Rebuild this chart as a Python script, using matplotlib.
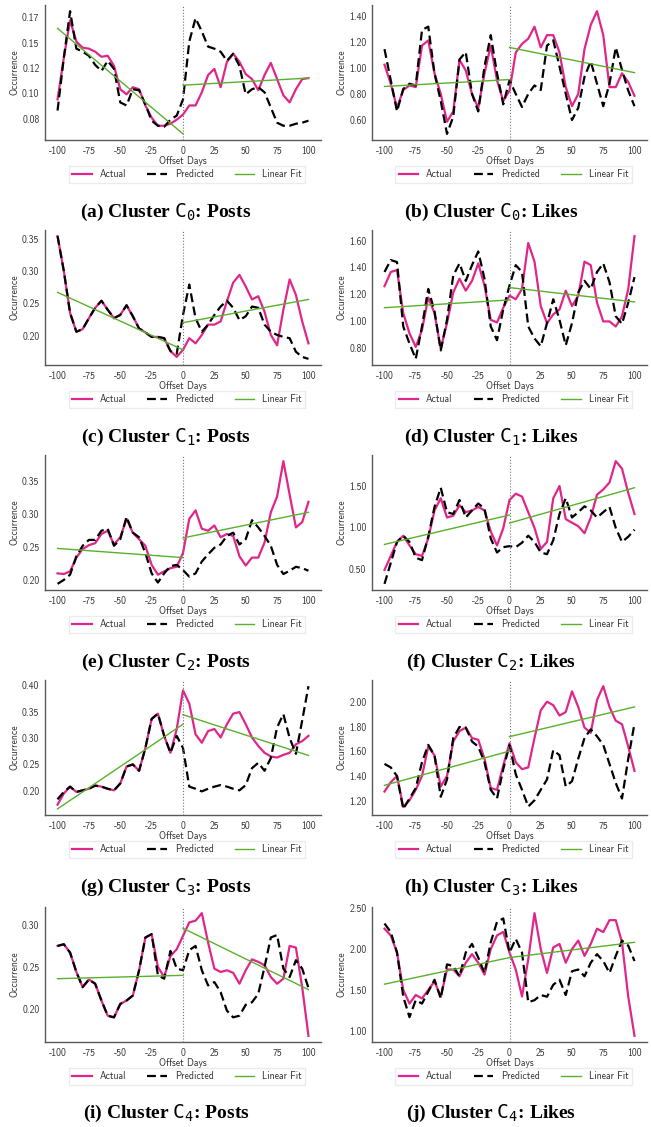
import numpy as np
import matplotlib
matplotlib.use("Agg")
from matplotlib import pyplot as plt

plt.rcParams['font.family'] = ['cmss10', 'DejaVu Sans']
plt.rcParams['axes.unicode_minus'] = False
plt.rcParams['mathtext.fontset'] = 'dejavusans'

# offset days, one value every 5 days
days = list(range(-100, 101, 5))

# (a) cluster 0, posts
c0_posts_actual = [0.094, 0.135, 0.172, 0.151, 0.145, 0.144, 0.141, 0.136, 0.137, 0.127, 0.104,
                   0.099, 0.106, 0.104, 0.088, 0.076, 0.068, 0.068, 0.070, 0.074, 0.079,
                   0.088, 0.088, 0.101, 0.118, 0.124, 0.106, 0.131, 0.139, 0.131, 0.119,
                   0.114, 0.103, 0.118, 0.130, 0.114, 0.098, 0.091, 0.104, 0.114, 0.115]
c0_posts_pred = [0.083, 0.135, 0.181, 0.144, 0.141, 0.137, 0.128, 0.122, 0.132, 0.124, 0.091,
                 0.088, 0.104, 0.103, 0.089, 0.073, 0.068, 0.067, 0.074, 0.078, 0.094,
                 0.151, 0.174, 0.161, 0.146, 0.144, 0.141, 0.132, 0.139, 0.127, 0.099,
                 0.104, 0.106, 0.101, 0.086, 0.071, 0.068, 0.068, 0.070, 0.071, 0.073]
c0_posts_fit = [0.164, 0.060, 0.108, 0.115]

# (b) cluster 0, likes
c0_likes_actual = [1.024, 0.878, 0.693, 0.830, 0.865, 0.852, 1.170, 1.210, 0.958, 0.800, 0.587,
                   0.666, 1.060, 0.980, 0.800, 0.693, 0.958, 1.170, 0.905, 0.746, 0.825,
                   1.117, 1.183, 1.223, 1.315, 1.156, 1.250, 1.250, 1.117, 0.852, 0.706,
                   0.800, 1.143, 1.328, 1.434, 1.250, 0.852, 0.852, 0.958, 0.891, 0.785]
c0_likes_pred = [1.143, 0.905, 0.666, 0.838, 0.878, 0.865, 1.290, 1.315, 0.958, 0.746, 0.494,
                 0.626, 1.064, 1.120, 0.800, 0.666, 1.010, 1.250, 0.958, 0.720, 0.905,
                 0.800, 0.700, 0.800, 0.865, 0.830, 1.170, 1.210, 1.010, 0.800, 0.600,
                 0.693, 0.931, 1.050, 0.878, 0.706, 0.878, 1.156, 0.984, 0.825, 0.706]
c0_likes_fit = [0.857, 0.910, 1.156, 0.963]

# (c) cluster 1, posts
c1_posts_actual = [0.354, 0.300, 0.235, 0.206, 0.210, 0.227, 0.243, 0.254, 0.240, 0.227, 0.232,
                   0.247, 0.230, 0.211, 0.205, 0.198, 0.198, 0.196, 0.176, 0.167, 0.178,
                   0.196, 0.188, 0.201, 0.217, 0.217, 0.222, 0.253, 0.282, 0.294, 0.276,
                   0.256, 0.261, 0.237, 0.201, 0.185, 0.240, 0.287, 0.263, 0.222, 0.188]
c1_posts_pred = [0.354, 0.300, 0.235, 0.206, 0.210, 0.227, 0.243, 0.254, 0.240, 0.227, 0.232,
                 0.247, 0.230, 0.211, 0.205, 0.198, 0.198, 0.196, 0.176, 0.172, 0.232,
                 0.279, 0.227, 0.206, 0.217, 0.232, 0.245, 0.254, 0.243, 0.224, 0.230,
                 0.245, 0.243, 0.217, 0.206, 0.201, 0.198, 0.196, 0.175, 0.167, 0.164]
c1_posts_fit = [0.267, 0.178, 0.220, 0.256]

# (d) cluster 1, likes
c1_likes_actual = [1.260, 1.366, 1.380, 1.060, 0.909, 0.808, 0.935, 1.176, 1.060, 0.795, 0.985,
                   1.214, 1.316, 1.227, 1.300, 1.430, 1.265, 1.010, 0.990, 1.100, 1.190,
                   1.163, 1.240, 1.582, 1.443, 1.112, 0.985, 1.050, 1.087, 1.227, 1.112,
                   1.190, 1.443, 1.417, 1.138, 0.998, 0.998, 0.960, 1.036, 1.240, 1.633]
c1_likes_pred = [1.366, 1.455, 1.440, 0.960, 0.833, 0.719, 0.960, 1.240, 1.074, 0.782, 1.010,
                 1.340, 1.430, 1.300, 1.417, 1.519, 1.316, 0.960, 0.858, 1.087, 1.265,
                 1.417, 1.366, 0.960, 0.871, 0.813, 0.985, 1.163, 1.010, 0.820, 0.985,
                 1.214, 1.300, 1.240, 1.366, 1.430, 1.290, 1.036, 0.980, 1.138, 1.328]
c1_likes_fit = [1.100, 1.158, 1.250, 1.143]

# (e) cluster 2, posts
c2_posts_actual = [0.210, 0.209, 0.213, 0.234, 0.247, 0.253, 0.256, 0.270, 0.275, 0.254, 0.265,
                   0.293, 0.272, 0.262, 0.252, 0.223, 0.208, 0.213, 0.218, 0.220, 0.241,
                   0.293, 0.306, 0.278, 0.275, 0.283, 0.265, 0.270, 0.267, 0.236, 0.222,
                   0.234, 0.234, 0.257, 0.303, 0.327, 0.381, 0.330, 0.280, 0.288, 0.319]
c2_posts_pred = [0.194, 0.200, 0.208, 0.236, 0.252, 0.261, 0.261, 0.275, 0.278, 0.252, 0.262,
                 0.296, 0.272, 0.265, 0.241, 0.210, 0.196, 0.210, 0.221, 0.223, 0.215,
                 0.205, 0.210, 0.228, 0.239, 0.249, 0.254, 0.267, 0.272, 0.254, 0.262,
                 0.291, 0.280, 0.267, 0.252, 0.223, 0.209, 0.214, 0.220, 0.218, 0.214]
c2_posts_fit = [0.248, 0.234, 0.264, 0.303]

# (f) cluster 2, likes
c2_likes_actual = [0.487, 0.656, 0.825, 0.900, 0.783, 0.677, 0.656, 0.867, 1.205, 1.352, 1.120,
                   1.141, 1.268, 1.184, 1.205, 1.247, 1.205, 0.951, 0.783, 0.990, 1.331,
                   1.407, 1.373, 1.184, 0.994, 0.740, 0.825, 1.352, 1.500, 1.100, 1.057,
                   1.015, 0.930, 1.120, 1.395, 1.458, 1.542, 1.800, 1.710, 1.416, 1.162]
c2_likes_pred = [0.319, 0.572, 0.825, 0.900, 0.825, 0.635, 0.605, 0.888, 1.247, 1.479, 1.184,
                 1.162, 1.331, 1.120, 1.205, 1.289, 1.226, 0.867, 0.698, 0.762, 0.774,
                 0.762, 0.816, 0.900, 0.825, 0.698, 0.677, 0.846, 1.162, 1.352, 1.120,
                 1.184, 1.255, 1.205, 1.120, 1.184, 1.247, 0.994, 0.825, 0.888, 0.973]
c2_likes_fit = [0.795, 1.150, 1.053, 1.479]

# (g) cluster 3, posts
c3_posts_actual = [0.174, 0.195, 0.208, 0.198, 0.201, 0.204, 0.210, 0.208, 0.204, 0.201, 0.214,
                   0.246, 0.250, 0.238, 0.281, 0.336, 0.346, 0.304, 0.272, 0.317, 0.390,
                   0.365, 0.307, 0.291, 0.313, 0.317, 0.301, 0.326, 0.346, 0.349, 0.326,
                   0.301, 0.285, 0.272, 0.265, 0.263, 0.268, 0.272, 0.288, 0.294, 0.304]
c3_posts_pred = [0.184, 0.198, 0.208, 0.198, 0.201, 0.204, 0.210, 0.208, 0.204, 0.201, 0.214,
                 0.246, 0.250, 0.238, 0.281, 0.336, 0.346, 0.304, 0.272, 0.304, 0.281,
                 0.208, 0.204, 0.199, 0.204, 0.208, 0.211, 0.208, 0.204, 0.201, 0.211,
                 0.243, 0.253, 0.238, 0.262, 0.320, 0.345, 0.300, 0.270, 0.333, 0.398]
c3_posts_fit = [0.166, 0.326, 0.344, 0.267]

# (h) cluster 3, likes
c3_likes_actual = [1.278, 1.353, 1.403, 1.153, 1.208, 1.292, 1.403, 1.639, 1.569, 1.319, 1.403,
                   1.680, 1.764, 1.792, 1.708, 1.694, 1.542, 1.306, 1.292, 1.486, 1.667,
                   1.514, 1.458, 1.472, 1.708, 1.931, 2.000, 1.972, 1.889, 1.917, 2.083,
                   1.958, 1.792, 1.750, 2.014, 2.125, 1.958, 1.847, 1.819, 1.639, 1.444]
c3_likes_pred = [1.500, 1.472, 1.403, 1.139, 1.222, 1.306, 1.514, 1.653, 1.569, 1.236, 1.375,
                 1.708, 1.797, 1.792, 1.680, 1.639, 1.514, 1.292, 1.222, 1.458, 1.653,
                 1.417, 1.292, 1.158, 1.208, 1.292, 1.375, 1.611, 1.570, 1.319, 1.361,
                 1.542, 1.708, 1.778, 1.722, 1.653, 1.500, 1.347, 1.222, 1.542, 1.825]
c3_likes_fit = [1.328, 1.603, 1.719, 1.958]

# (i) cluster 4, posts
c4_posts_actual = [0.275, 0.277, 0.267, 0.244, 0.226, 0.235, 0.230, 0.210, 0.192, 0.190, 0.206,
                   0.210, 0.216, 0.246, 0.285, 0.289, 0.250, 0.238, 0.263, 0.271, 0.287,
                   0.303, 0.305, 0.314, 0.279, 0.248, 0.244, 0.246, 0.243, 0.230, 0.246,
                   0.259, 0.256, 0.252, 0.238, 0.230, 0.236, 0.275, 0.273, 0.226, 0.168]
c4_posts_pred = [0.275, 0.277, 0.267, 0.244, 0.226, 0.235, 0.230, 0.210, 0.192, 0.190, 0.206,
                 0.210, 0.216, 0.246, 0.285, 0.289, 0.240, 0.236, 0.269, 0.248, 0.246,
                 0.270, 0.275, 0.246, 0.228, 0.232, 0.220, 0.198, 0.190, 0.192, 0.205,
                 0.208, 0.218, 0.250, 0.285, 0.288, 0.248, 0.238, 0.258, 0.248, 0.225]
c4_posts_fit = [0.236, 0.240, 0.296, 0.223]

# (j) cluster 4, likes
c4_likes_actual = [2.250, 2.167, 1.958, 1.500, 1.333, 1.438, 1.396, 1.500, 1.604, 1.417, 1.750,
                   1.750, 1.667, 1.833, 1.938, 1.833, 1.688, 2.000, 2.167, 2.210, 1.958,
                   1.750, 1.420, 1.875, 2.440, 2.000, 1.708, 2.020, 2.063, 1.833, 2.000,
                   2.104, 1.917, 2.063, 2.250, 2.208, 2.354, 2.354, 2.083, 1.417, 0.938]
c4_likes_pred = [2.313, 2.208, 1.958, 1.417, 1.167, 1.375, 1.333, 1.479, 1.625, 1.396, 1.813,
                 1.792, 1.667, 1.958, 2.063, 1.896, 1.708, 2.083, 2.333, 2.375, 1.958,
                 2.125, 1.958, 1.350, 1.375, 1.438, 1.417, 1.563, 1.625, 1.438, 1.729,
                 1.750, 1.667, 1.833, 1.938, 1.854, 1.708, 1.917, 2.104, 2.042, 1.854]
c4_likes_fit = [1.571, 1.896, 1.896, 2.083]

x_ticks = [-100, -75, -50, -25, 0, 25, 50, 75, 100]
posts_c0_yticks = [0.075, 0.10, 0.125, 0.15, 0.175]
posts_c0_ylabels = ['0.08', '0.10', '0.12', '0.15', '0.17']
likes_c0_yticks = [0.6, 0.8, 1.0, 1.2, 1.4]
posts_c1_yticks = [0.20, 0.25, 0.30, 0.35]
likes_c1_yticks = [0.8, 1.0, 1.2, 1.4, 1.6]
posts_c2_yticks = [0.20, 0.25, 0.30, 0.35]
likes_c2_yticks = [0.5, 1.0, 1.5]
posts_c3_yticks = [0.20, 0.25, 0.30, 0.35, 0.40]
likes_c3_yticks = [1.2, 1.4, 1.6, 1.8, 2.0]
posts_c4_yticks = [0.20, 0.25, 0.30]
likes_c4_yticks = [1.0, 1.5, 2.0, 2.5]

captions = [r'(a) Cluster $\mathtt{C}_{\mathtt{0}}$: Posts', r'(b) Cluster $\mathtt{C}_{\mathtt{0}}$: Likes',
            r'(c) Cluster $\mathtt{C}_{\mathtt{1}}$: Posts', r'(d) Cluster $\mathtt{C}_{\mathtt{1}}$: Likes',
            r'(e) Cluster $\mathtt{C}_{\mathtt{2}}$: Posts', r'(f) Cluster $\mathtt{C}_{\mathtt{2}}$: Likes',
            r'(g) Cluster $\mathtt{C}_{\mathtt{3}}$: Posts', r'(h) Cluster $\mathtt{C}_{\mathtt{3}}$: Likes',
            r'(i) Cluster $\mathtt{C}_{\mathtt{4}}$: Posts', r'(j) Cluster $\mathtt{C}_{\mathtt{4}}$: Likes']

panels = [
    (c0_posts_actual, c0_posts_pred, c0_posts_fit, posts_c0_yticks, posts_c0_ylabels),
    (c0_likes_actual, c0_likes_pred, c0_likes_fit, likes_c0_yticks, None),
    (c1_posts_actual, c1_posts_pred, c1_posts_fit, posts_c1_yticks, None),
    (c1_likes_actual, c1_likes_pred, c1_likes_fit, likes_c1_yticks, None),
    (c2_posts_actual, c2_posts_pred, c2_posts_fit, posts_c2_yticks, None),
    (c2_likes_actual, c2_likes_pred, c2_likes_fit, likes_c2_yticks, None),
    (c3_posts_actual, c3_posts_pred, c3_posts_fit, posts_c3_yticks, None),
    (c3_likes_actual, c3_likes_pred, c3_likes_fit, likes_c3_yticks, None),
    (c4_posts_actual, c4_posts_pred, c4_posts_fit, posts_c4_yticks, None),
    (c4_likes_actual, c4_likes_pred, c4_likes_fit, likes_c4_yticks, None),
]

PINK = '#e0268a'
GREEN = '#58b02c'
W, H = 651, 1127
lefts = [45, 372]
widths = [276, 275]
tops = [5, 230, 455, 680, 907]
ax_h = 135
cap_x = [166, 491]
cap_y = [212, 437, 662, 887, 1113]

fig = plt.figure(figsize=(W / 100, H / 100), dpi=100, facecolor='white')

for k, (act, pred, fit, yt, ylab) in enumerate(panels):
    row, col = k // 2, k % 2
    ax = fig.add_axes([lefts[col] / W, 1 - (tops[row] + ax_h) / H, widths[col] / W, ax_h / H])
    ax.plot(days, act, color=PINK, lw=1.6, label='Actual')
    ax.plot(days, pred, color='black', lw=1.6, ls=(0, (4, 2)), label='Predicted')
    ax.plot([days[0], 0], fit[:2], color=GREEN, lw=1.0, label='Linear Fit')
    ax.plot([0, days[-1]], fit[2:], color=GREEN, lw=1.0)
    ax.axvline(0, color='0.45', ls=':', lw=0.8)

    ax.set_xticks(x_ticks)
    ax.set_yticks(yt)
    if ylab is None:
        ylab = ['%.2f' % v for v in yt]
    ax.set_yticklabels(ylab)
    ax.tick_params(length=0, pad=4, labelsize=7, colors='0.2')
    ax.set_xlabel('Offset Days', fontsize=7, labelpad=0, color='0.2')
    ax.set_ylabel('Occurrence', fontsize=7, labelpad=2, color='0.2')
    for s in ['top', 'right']:
        ax.spines[s].set_visible(False)
    for s in ['left', 'bottom']:
        ax.spines[s].set_color('0.35')
        ax.spines[s].set_linewidth(1.0)

    leg = ax.legend(loc='upper center', bbox_to_anchor=(0.515, -0.155), ncol=3, fontsize=7,
                    frameon=True, fancybox=False, edgecolor='0.9', handlelength=2.0,
                    columnspacing=2.2, borderpad=0.35)
    for t in leg.get_texts():
        t.set_color('0.2')

    fig.text(cap_x[col] / W, 1 - cap_y[row] / H, captions[k], ha='center', va='center',
             fontsize=14, fontweight='bold', family='Liberation Serif')

fig.savefig('out.png', dpi=100, facecolor='white')
